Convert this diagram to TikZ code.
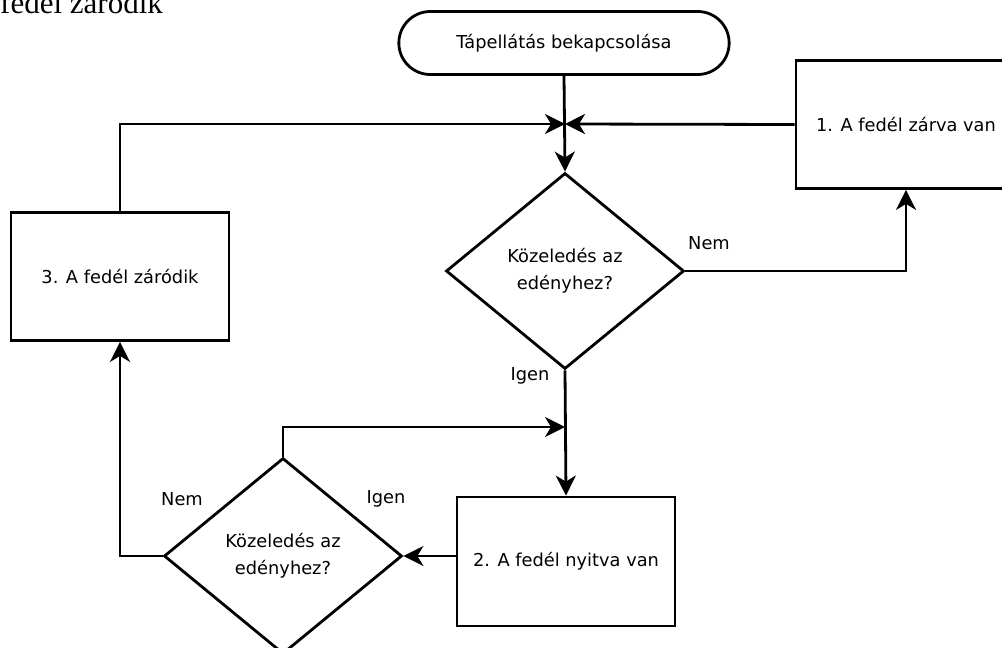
\documentclass[tikz,border=0pt]{standalone}
\usepackage{fontspec}
\setmainfont{DejaVu Sans}
\newfontfamily\capfont{Liberation Serif}
\usetikzlibrary{arrows.meta,positioning,shapes.misc,shapes.geometric}

\tikzset{
    folyam/.style={line width=2.8pt, -{Stealth[length=20pt,width=20pt,inset=6pt]}},
    doboz/.style={draw, line width=2.8pt, minimum width=218pt, minimum height=128pt, inner sep=0pt},
    dontes/.style={draw, diamond, line width=2.8pt, minimum width=238pt, minimum height=196pt, inner sep=0pt, align=center},
    indit/.style={draw, rounded rectangle, line width=2.8pt, minimum width=337pt, minimum height=63pt},
    cimke/.style={inner sep=0pt}
}

\begin{document}
\begin{tikzpicture}[x=1pt, y=-1pt, font=\fontsize{17.8}{27}\selectfont]
            \useasboundingbox (0,0) rectangle (1002,648);
            \clip (0,0) rectangle (1002,648);

            % Levágott felirat a bal felső sarokban
            \node[anchor=base west, inner sep=0pt, font=\capfont\fontsize{31}{31}\selectfont] (felirat) at (0,13) {fedél záródik};

            % Csomópontok
            \node[indit] (start) at (564,43) {Tápellátás bekapcsolása};
            \node[dontes] (d1) at (565,271) {Közeledés az\\edényhez?};
            \node[doboz, minimum width=220pt] (zarva) at (906,124.5) {1. A fedél zárva van};
            \node[doboz] (zarodik) at (120,276.5) {3. A fedél záródik};
            \node[doboz, minimum height=129pt] (nyitva) at (566,561.5) {2. A fedél nyitva van};
            \node[dontes] (d2) at (283,556) {Közeledés az\\edényhez?};

            % Csatlakozási pontok
            \coordinate (j1) at (565,124);
            \coordinate (j2) at (565,427);

            % Nyilak
            \draw[folyam] (start.south) -- (d1.north);
            \draw[folyam] (zarva.west) -- (j1);
            \draw[folyam] (zarodik.north) |- (j1);
            \draw[folyam] (d1.east) -| (zarva.south);
            \draw[folyam] (d1.south) -- (nyitva.north);
            \draw[folyam] (d2.north) |- (j2);
            \draw[folyam] (d2.east -| nyitva.west) -- (d2.east);
            \draw[folyam] (d2.west) -| (zarodik.south);

            % Feliratok
            \node[cimke] (nem1) at (709,243) {Nem};
            \node[cimke] (igen1) at (530,376) {Igen};
            \node[cimke] (nem2) at (182,499) {Nem};
            \node[cimke] (igen2) at (386,499) {Igen};
        \end{tikzpicture}
\end{document}
